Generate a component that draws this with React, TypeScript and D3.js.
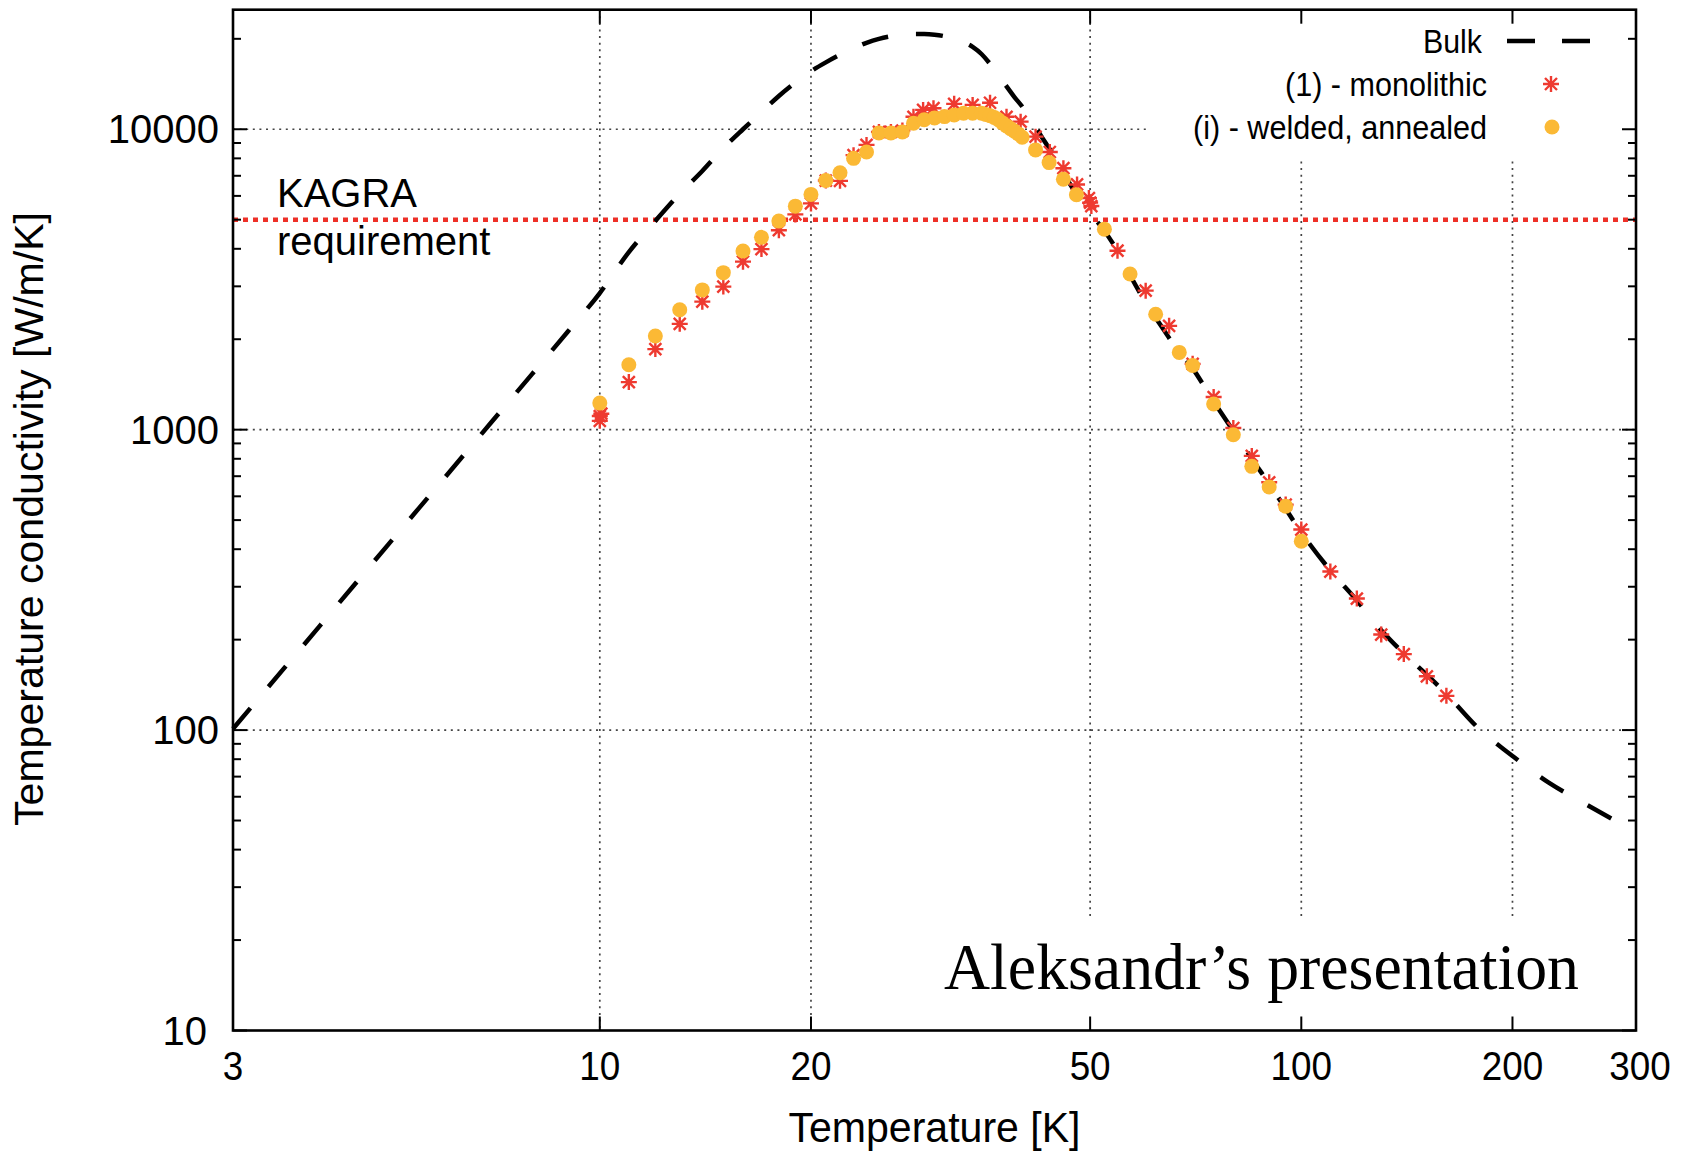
import React from 'react';
import * as d3 from 'd3';

const W = 1682;
const H = 1157;

// Bulk curve (T [K], conductivity [W/m/K])
const bulkT = [3, 4, 5, 6, 7, 8, 9, 10, 11, 12, 13, 14, 15, 16, 17, 18, 19, 20, 21, 22, 23, 24, 25, 26, 27, 28, 29, 30, 31, 32, 33, 34, 35, 36, 37, 38, 39, 40, 41, 42, 43, 44, 45, 46, 48, 50, 52, 55, 57.5, 60, 63, 66, 70, 75, 80, 85, 90, 95, 100, 110, 120, 130, 140, 150, 160, 180, 200, 225, 250, 280];
const bulkK = [101, 224, 416, 689, 1056, 1528, 2118, 2850, 3900, 4950, 6100, 7260, 8650, 10000, 11400, 12900, 14300, 15600, 16700, 17700, 18600, 19400, 20000, 20400, 20650, 20750, 20750, 20650, 20400, 20000, 19500, 18800, 17800, 16500, 15100, 13900, 12800, 11900, 10900, 10000, 9150, 8450, 7800, 7050, 6000, 5250, 4700, 3850, 3150, 2650, 2230, 1900, 1600, 1240, 990, 800, 660, 545, 455, 340, 270, 215, 180, 155, 134, 100, 82, 67, 58, 50];

// (1) - monolithic
const monoT = [10, 10, 10.05, 11, 12, 13, 14, 15, 16, 17, 18, 19, 20, 21, 22, 23, 24, 25, 26, 27, 28, 28.9, 29.9, 32, 34, 36, 38, 39.8, 41.8, 43.8, 45.8, 47.9, 49.8, 50, 50.2, 54.7, 60, 64.8, 70, 75, 80, 85, 90, 95, 100, 110, 120, 130, 140, 151, 161];
const monoK = [1070, 1110, 1130, 1440, 1854, 2250, 2668, 2994, 3625, 3990, 4613, 5207, 5665, 6750, 6733, 8200, 8870, 9800, 9800, 9900, 11000, 11600, 11750, 12150, 12050, 12250, 11000, 10600, 9450, 8400, 7420, 6550, 5900, 5700, 5550, 3942, 2902, 2216, 1656, 1284, 1013, 818, 668, 563, 465, 337, 274, 208, 179, 151, 130];

// (i) - welded, annealed
const weldT = [10, 11, 12, 13, 14, 15, 16, 17, 18, 19, 20, 21, 22, 23, 24, 25, 26, 27, 28, 29, 30, 31, 32, 33, 34, 35, 35.5, 36, 36.5, 37, 37.5, 38, 38.5, 39, 39.5, 40, 41.8, 43.7, 45.8, 47.8, 52.4, 57, 62, 67, 70, 75, 80, 85, 90, 95, 100];
const weldK = [1226, 1644, 2051, 2506, 2919, 3332, 3933, 4366, 4946, 5546, 6068, 6750, 7166, 8000, 8400, 9720, 9720, 9800, 10470, 10750, 10910, 11020, 11150, 11300, 11300, 11300, 11200, 11100, 10950, 10750, 10500, 10260, 10050, 9850, 9650, 9400, 8535, 7744, 6820, 6050, 4650, 3296, 2421, 1808, 1635, 1217, 962, 755, 645, 556, 425];

const kagraRequirement = 5000;

const xTicks = [3, 10, 20, 50, 100, 200, 300];
const xGrid = [10, 20, 50, 100, 200];
const yTicks = [10, 100, 1000, 10000];
const yGrid = [100, 1000, 10000];
const yMinor = [20, 30, 40, 50, 60, 70, 80, 90, 200, 300, 400, 500, 600, 700, 800, 900, 2000, 3000, 4000, 5000, 6000, 7000, 8000, 9000, 20000];

const legendLabels = ['Bulk', '(1) - monolithic', '(i) - welded, annealed'];

const RED = '#ee3028';
const STAR = '#ee3a30';
const GOLD = '#fbb935';
const FONT = '"Liberation Sans", Arial, Helvetica, sans-serif';

const starPath = 'M-8,0H8M0,-8V8M-6,-6L6,6M-6,6L6,-6';

export default function App() {
  const x = d3.scaleLog().domain([3, 300]).range([233, 1636]);
  const y = d3.scaleLog().domain([10, 25000]).range([1030.5, 9.7]);
  const [x0, x1] = x.range();
  const [yb, yt] = y.range();

  const bulk: [number, number][] = bulkT.map((t, i) => [t, bulkK[i]]);
  const mono: [number, number][] = monoT.map((t, i) => [t, monoK[i]]);
  const weld: [number, number][] = weldT.map((t, i) => [t, weldK[i]]);

  const line = d3
    .line<[number, number]>()
    .x((d) => x(d[0]))
    .y((d) => y(d[1]))
    .curve(d3.curveMonotoneX);

  const gridStyle = { stroke: '#444', strokeWidth: 1.7, strokeDasharray: '2,4.6' };

  return (
    <svg
      width={W}
      height={H}
      viewBox={`0 0 ${W} ${H}`}
      style={{ position: 'absolute', left: 0, top: 0, background: '#fff' }}
      fontFamily={FONT}
    >
      <rect x={0} y={0} width={W} height={H} fill="#fff" />

      {/* grid */}
      {xGrid.map((v) => (
        <line key={'gx' + v} x1={x(v)} x2={x(v)} y1={yt} y2={yb} {...gridStyle} />
      ))}
      {yGrid.map((v) => (
        <line key={'gy' + v} x1={x0} x2={x1} y1={y(v)} y2={y(v)} {...gridStyle} />
      ))}

      {/* legend & watermark backgrounds */}
      <rect x={1148} y={yt + 2} width={x1 - 1148 - 2} height={148} fill="#fff" />
      <rect x={930} y={918} width={x1 - 930 - 2} height={yb - 918 - 2} fill="#fff" />

      {/* KAGRA requirement */}
      <line
        x1={x0}
        x2={x1}
        y1={y(kagraRequirement)}
        y2={y(kagraRequirement)}
        stroke={RED}
        strokeWidth={4.5}
        strokeDasharray="5,5"
      />
      <text x={277} y={207} fontSize={40} fill="#000">KAGRA</text>
      <text x={277} y={255} fontSize={40} fill="#000">requirement</text>

      {/* Bulk */}
      <path d={line(bulk) || ''} fill="none" stroke="#000" strokeWidth={4.5} strokeDasharray="27,28" />

      {/* monolithic stars */}
      {mono.map((d, i) => (
        <path
          key={'m' + i}
          d={starPath}
          transform={`translate(${x(d[0])},${y(d[1])})`}
          stroke={STAR}
          strokeWidth={2.4}
          fill="none"
        />
      ))}

      {/* welded circles */}
      {weld.map((d, i) => (
        <circle key={'w' + i} cx={x(d[0])} cy={y(d[1])} r={7.5} fill={GOLD} />
      ))}

      {/* frame */}
      <rect x={x0} y={yt} width={x1 - x0} height={yb - yt} fill="none" stroke="#000" strokeWidth={2.6} />

      {/* y ticks */}
      {yTicks.map((v) => (
        <g key={'yt' + v}>
          <line x1={x0} x2={x0 + 14} y1={y(v)} y2={y(v)} stroke="#000" strokeWidth={2} />
          <line x1={x1} x2={x1 - 14} y1={y(v)} y2={y(v)} stroke="#000" strokeWidth={2} />
          <text
            x={v === 10 ? 207 : 219}
            y={y(v)}
            fontSize={40}
            textAnchor="end"
            dominantBaseline="central"
            fill="#000"
          >
            {v}
          </text>
        </g>
      ))}
      {yMinor.map((v) => (
        <g key={'ym' + v}>
          <line x1={x0} x2={x0 + 8} y1={y(v)} y2={y(v)} stroke="#000" strokeWidth={2} />
          <line x1={x1} x2={x1 - 8} y1={y(v)} y2={y(v)} stroke="#000" strokeWidth={2} />
        </g>
      ))}

      {/* x ticks */}
      {xTicks.map((v) => (
        <g key={'xt' + v}>
          {v !== 3 && v !== 300 && (
            <>
              <line x1={x(v)} x2={x(v)} y1={yb} y2={yb - 14} stroke="#000" strokeWidth={2} />
              <line x1={x(v)} x2={x(v)} y1={yt} y2={yt + 14} stroke="#000" strokeWidth={2} />
            </>
          )}
          <text
            x={x(v) + (v === 300 ? 4 : 0)}
            y={1080}
            fontSize={41}
            textAnchor="middle"
            fill="#000"
            textLength={String(v).length * 20.5}
            lengthAdjust="spacingAndGlyphs"
          >
            {v}
          </text>
        </g>
      ))}

      {/* axis titles */}
      <text
        x={(x0 + x1) / 2}
        y={1142}
        fontSize={42}
        textAnchor="middle"
        fill="#000"
        textLength={292}
        lengthAdjust="spacingAndGlyphs"
      >
        Temperature [K]
      </text>
      <text
        x={43}
        y={519}
        transform="rotate(-90, 43, 519)"
        fontSize={41}
        textAnchor="middle"
        fill="#000"
        textLength={614}
        lengthAdjust="spacingAndGlyphs"
      >
        Temperature conductivity [W/m/K]
      </text>

      {/* legend */}
      <text x={1482} y={41} fontSize={34} textAnchor="end" dominantBaseline="central" textLength={59} lengthAdjust="spacingAndGlyphs">
        {legendLabels[0]}
      </text>
      <line x1={1507} x2={1590} y1={41} y2={41} stroke="#000" strokeWidth={4.5} strokeDasharray="28,27" />
      <text x={1487} y={84} fontSize={34} textAnchor="end" dominantBaseline="central" textLength={202} lengthAdjust="spacingAndGlyphs">
        {legendLabels[1]}
      </text>
      <path d={starPath} transform="translate(1551,84)" stroke={STAR} strokeWidth={2.4} fill="none" />
      <text x={1487} y={127} fontSize={34} textAnchor="end" dominantBaseline="central" textLength={294} lengthAdjust="spacingAndGlyphs">
        {legendLabels[2]}
      </text>
      <circle cx={1552} cy={127} r={7.5} fill={GOLD} />

      {/* watermark */}
      <text
        x={944}
        y={989}
        fontSize={66}
        fontFamily='"Liberation Serif", "Times New Roman", serif'
        fill="#000"
        textLength={635}
        lengthAdjust="spacingAndGlyphs"
      >
        Aleksandr’s presentation
      </text>
    </svg>
  );
}
